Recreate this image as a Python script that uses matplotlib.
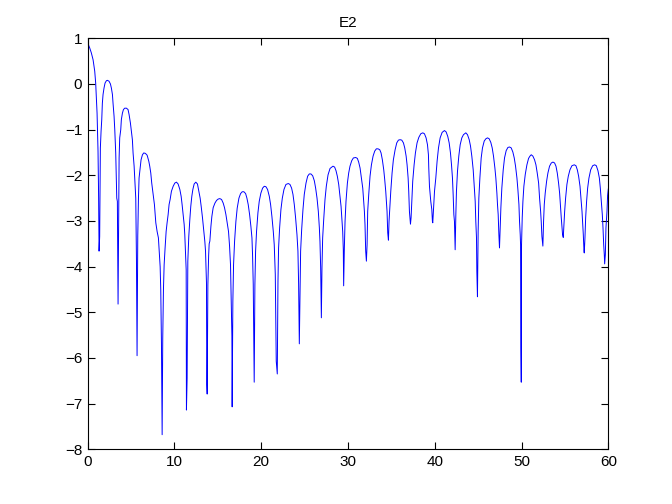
import matplotlib
matplotlib.use("Agg")
import matplotlib.pyplot as plt

# curve, lobe by lobe (x, log-magnitude)
x_start = [0.0, 0.23, 0.42, 0.62, 0.81, 0.92, 1.08, 1.19, 1.26, 1.31]
y_start = [0.90, 0.79, 0.68, 0.53, 0.28, 0.02, -0.64, -1.47, -2.5, -3.66]

x_lobes = [
    [1.38, 1.46, 1.54, 1.62, 1.69, 1.77, 1.88, 2.0, 2.15, 2.27, 2.46, 2.62, 2.73, 2.85, 2.92, 3.04, 3.12, 3.23, 3.35, 3.42, 3.50],
    [3.58, 3.62, 3.69, 3.81, 3.88, 4.0, 4.12, 4.27, 4.46, 4.65, 4.77, 4.92, 5.04, 5.15, 5.23, 5.35, 5.42, 5.54, 5.62, 5.69],
    [5.77, 5.85, 5.92, 6.04, 6.15, 6.31, 6.46, 6.65, 6.85, 7.04, 7.15, 7.27, 7.38, 7.54, 7.69, 7.85, 8.0, 8.15, 8.23, 8.35, 8.42, 8.50, 8.58],
    [8.65, 8.73, 8.81, 8.92, 9.04, 9.15, 9.27, 9.38, 9.50, 9.65, 9.85, 10.04, 10.23, 10.42, 10.62, 10.77, 10.88, 11.0, 11.12, 11.19, 11.27, 11.35, 11.38],
    [11.46, 11.54, 11.65, 11.77, 11.88, 12.0, 12.12, 12.27, 12.46, 12.65, 12.81, 12.96, 13.08, 13.23, 13.38, 13.50, 13.58, 13.69, 13.73, 13.77],
    [13.85, 13.94, 14.0, 14.08, 14.20, 14.31, 14.46, 14.66, 14.85, 15.04, 15.23, 15.43, 15.62, 15.77, 15.93, 16.08, 16.23, 16.35, 16.46, 16.54, 16.62, 16.65],
    [16.73, 16.81, 16.93, 17.08, 17.23, 17.43, 17.62, 17.81, 18.0, 18.2, 18.35, 18.50, 18.66, 18.81, 18.93, 19.0, 19.08, 19.16, 19.19],
    [19.27, 19.35, 19.46, 19.62, 19.77, 19.96, 20.16, 20.35, 20.54, 20.73, 20.93, 21.08, 21.23, 21.39, 21.50, 21.62, 21.73, 21.85],
    [21.93, 22.0, 22.12, 22.27, 22.43, 22.62, 22.85, 23.12, 23.31, 23.50, 23.66, 23.81, 23.96, 24.12, 24.23, 24.31, 24.39],
    [24.46, 24.54, 24.66, 24.81, 24.96, 25.16, 25.35, 25.54, 25.73, 25.93, 26.12, 26.27, 26.43, 26.58, 26.70, 26.77, 26.85, 26.93],
    [27.0, 27.08, 27.2, 27.35, 27.50, 27.70, 27.93, 28.27, 28.46, 28.62, 28.77, 28.93, 29.08, 29.2, 29.31, 29.39, 29.46, 29.5],
    [29.58, 29.66, 29.77, 29.93, 30.08, 30.23, 30.43, 30.62, 30.89, 31.08, 31.23, 31.39, 31.54, 31.70, 31.81, 31.89, 31.96, 32.04, 32.12],
    [32.2, 32.27, 32.39, 32.54, 32.70, 32.89, 33.08, 33.27, 33.46, 33.66, 33.81, 33.96, 34.12, 34.23, 34.35, 34.43, 34.5, 34.58, 34.66],
    [34.73, 34.81, 34.93, 35.08, 35.23, 35.43, 35.62, 35.81, 36.0, 36.2, 36.39, 36.54, 36.70, 36.81, 36.93, 37.0, 37.08, 37.16, 37.2],
    [37.27, 37.35, 37.46, 37.62, 37.77, 37.96, 38.16, 38.39, 38.62, 38.81, 39.0, 39.16, 39.27, 39.31, 39.39, 39.54, 39.66, 39.73, 39.77],
    [39.85, 39.97, 40.12, 40.27, 40.43, 40.62, 40.85, 41.12, 41.31, 41.5, 41.66, 41.81, 41.93, 42.04, 42.12, 42.2, 42.27, 42.31, 42.35],
    [42.43, 42.5, 42.62, 42.77, 42.93, 43.12, 43.31, 43.58, 43.77, 43.97, 44.12, 44.27, 44.43, 44.54, 44.66, 44.73, 44.81, 44.85, 44.92],
    [45.0, 45.08, 45.2, 45.35, 45.5, 45.7, 45.89, 46.08, 46.27, 46.46, 46.62, 46.77, 46.93, 47.04, 47.16, 47.23, 47.31, 47.39, 47.46],
    [47.54, 47.62, 47.73, 47.89, 48.04, 48.23, 48.43, 48.62, 48.81, 49.0, 49.16, 49.31, 49.47, 49.58, 49.7, 49.77, 49.85, 49.89, 49.93, 49.97],
    [50.0, 50.08, 50.16, 50.27, 50.43, 50.62, 50.81, 50.97, 51.12, 51.31, 51.5, 51.66, 51.81, 51.97, 52.08, 52.2, 52.27, 52.35, 52.43, 52.46],
    [52.54, 52.62, 52.73, 52.89, 53.04, 53.23, 53.43, 53.62, 53.81, 53.97, 54.12, 54.27, 54.39, 54.5, 54.58, 54.66, 54.73, 54.81],
    [54.89, 54.97, 55.08, 55.23, 55.39, 55.58, 55.81, 56.08, 56.27, 56.43, 56.58, 56.74, 56.85, 56.97, 57.04, 57.12, 57.2, 57.23],
    [57.31, 57.39, 57.5, 57.62, 57.77, 57.97, 58.2, 58.43, 58.62, 58.81, 58.97, 59.08, 59.2, 59.31, 59.39, 59.47, 59.54, 59.58],
    [59.66, 59.73, 59.85, 59.92, 60.0],
]
y_lobes = [
    [-3.34, -1.40, -1.04, -0.78, -0.42, -0.23, -0.09, 0.02, 0.07, 0.08, 0.06, 0.0, -0.09, -0.23, -0.42, -0.71, -1.0, -1.51, -2.5, -2.57, -4.82],
    [-2.57, -1.62, -1.18, -1.0, -0.78, -0.64, -0.56, -0.53, -0.53, -0.56, -0.67, -0.85, -1.04, -1.22, -1.51, -1.80, -2.06, -2.50, -3.85, -5.95],
    [-3.33, -2.50, -2.06, -1.84, -1.66, -1.55, -1.51, -1.52, -1.56, -1.69, -1.80, -1.95, -2.17, -2.42, -2.64, -3.04, -3.23, -3.37, -3.63, -4.0, -4.5, -5.67, -7.68],
    [-5.56, -4.50, -3.96, -3.59, -3.23, -3.04, -2.86, -2.64, -2.53, -2.35, -2.24, -2.17, -2.15, -2.19, -2.31, -2.46, -2.64, -2.86, -3.08, -3.30, -3.66, -4.07, -7.14],
    [-6.44, -3.88, -3.34, -2.97, -2.68, -2.46, -2.31, -2.19, -2.15, -2.19, -2.35, -2.50, -2.68, -2.93, -3.23, -3.45, -3.66, -4.36, -6.58, -6.79],
    [-4.4, -3.75, -3.5, -3.44, -3.12, -2.90, -2.71, -2.61, -2.55, -2.52, -2.51, -2.53, -2.61, -2.71, -2.86, -3.04, -3.23, -3.55, -3.96, -4.76, -5.52, -7.07],
    [-4.76, -3.96, -3.44, -3.01, -2.72, -2.50, -2.40, -2.36, -2.36, -2.40, -2.50, -2.64, -2.86, -3.12, -3.37, -3.74, -4.39, -6.07, -6.53],
    [-4.39, -3.66, -3.23, -2.82, -2.57, -2.39, -2.28, -2.24, -2.25, -2.31, -2.46, -2.64, -2.90, -3.23, -3.52, -4.17, -6.07, -6.35],
    [-4.32, -3.59, -3.15, -2.75, -2.50, -2.31, -2.20, -2.18, -2.20, -2.28, -2.42, -2.64, -2.93, -3.30, -3.66, -4.39, -5.69],
    [-4.76, -3.66, -3.19, -2.75, -2.42, -2.17, -2.02, -1.97, -1.97, -2.01, -2.12, -2.28, -2.50, -2.79, -3.15, -3.45, -4.03, -5.12],
    [-4.03, -3.37, -2.97, -2.53, -2.24, -1.99, -1.85, -1.80, -1.82, -1.90, -2.02, -2.20, -2.46, -2.68, -3.01, -3.23, -3.63, -4.42],
    [-3.59, -3.01, -2.57, -2.17, -1.95, -1.80, -1.68, -1.62, -1.61, -1.63, -1.71, -1.84, -2.06, -2.28, -2.57, -2.79, -3.08, -3.66, -3.88],
    [-3.52, -2.79, -2.42, -2.02, -1.77, -1.58, -1.47, -1.42, -1.42, -1.44, -1.51, -1.66, -1.88, -2.09, -2.35, -2.57, -2.79, -3.26, -3.42],
    [-3.01, -2.75, -2.35, -1.95, -1.66, -1.44, -1.29, -1.23, -1.22, -1.23, -1.29, -1.40, -1.58, -1.77, -2.06, -2.35, -2.79, -2.97, -3.07],
    [-2.93, -2.57, -2.13, -1.77, -1.51, -1.29, -1.17, -1.09, -1.07, -1.09, -1.18, -1.33, -1.55, -1.84, -2.24, -2.57, -2.75, -3.01, -3.04],
    [-2.75, -2.35, -2.06, -1.69, -1.40, -1.18, -1.06, -1.02, -1.05, -1.15, -1.29, -1.51, -1.77, -2.06, -2.42, -2.86, -3.01, -3.37, -3.63],
    [-2.86, -2.35, -1.91, -1.58, -1.33, -1.18, -1.11, -1.07, -1.11, -1.22, -1.36, -1.58, -1.88, -2.20, -2.57, -3.01, -3.37, -4.1, -4.66],
    [-3.23, -2.50, -2.06, -1.62, -1.40, -1.25, -1.20, -1.18, -1.20, -1.28, -1.40, -1.58, -1.84, -2.06, -2.39, -2.64, -2.86, -3.30, -3.59],
    [-3.15, -2.71, -2.28, -1.88, -1.62, -1.46, -1.39, -1.38, -1.40, -1.49, -1.62, -1.80, -2.06, -2.31, -2.64, -3.01, -3.30, -3.52, -5.78, -6.53],
    [-3.52, -2.93, -2.57, -2.24, -1.98, -1.77, -1.63, -1.58, -1.55, -1.58, -1.66, -1.77, -1.95, -2.17, -2.50, -2.79, -3.01, -3.34, -3.48, -3.55],
    [-3.01, -2.64, -2.39, -2.13, -1.95, -1.80, -1.73, -1.71, -1.73, -1.80, -1.95, -2.17, -2.39, -2.71, -2.93, -3.12, -3.30, -3.36],
    [-3.08, -2.79, -2.50, -2.20, -2.02, -1.88, -1.79, -1.77, -1.79, -1.88, -2.02, -2.24, -2.50, -2.79, -3.01, -3.30, -3.66, -3.70],
    [-3.37, -2.93, -2.57, -2.28, -2.06, -1.88, -1.79, -1.77, -1.79, -1.90, -2.06, -2.28, -2.57, -2.86, -3.15, -3.52, -3.74, -3.94],
    [-3.74, -3.15, -2.79, -2.44, -2.3],
]

x_ticks = [0, 10, 20, 30, 40, 50, 60]
y_ticks = [-8, -7, -6, -5, -4, -3, -2, -1, 0, 1]

x = list(x_start)
y = list(y_start)
for xs, ys in zip(x_lobes, y_lobes):
    x += xs
    y += ys

plt.rcParams['font.family'] = ['Liberation Sans', 'DejaVu Sans']
fig = plt.figure(figsize=(6.72, 5.04), dpi=100)
ax = fig.add_axes([0.1305, 0.1085, 0.7747, 0.8155])
ax.plot(x, y, color='#0000ff', lw=0.7)

ax.set_xlim(0, 60)
ax.set_ylim(-8, 1)
ax.set_xticks(x_ticks)
ax.set_yticks(y_ticks)
ax.tick_params(direction='in', top=True, right=True, length=5, width=0.8, labelsize=11, pad=4)
for s in ax.spines.values():
    s.set_linewidth(0.8)
ax.set_title('E2', fontsize=11, pad=8)

fig.savefig('out.png', dpi=100)
